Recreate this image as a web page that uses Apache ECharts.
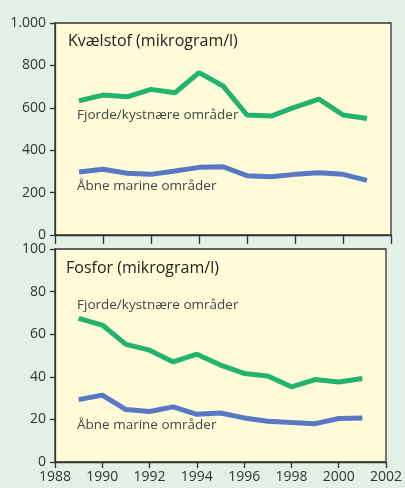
<!DOCTYPE html>
<html>
<head>
<meta charset="utf-8">
<script src="https://cdn.jsdelivr.net/npm/echarts@6/dist/echarts.min.js"></script>
<style>
html, body { margin: 0; padding: 0; background: #e3f0e7; }
#chart { width: 405px; height: 488px; }
</style>
</head>
<body>
<div id="chart"></div>
<script>
var years = [1989, 1990, 1991, 1992, 1993, 1994, 1995, 1996, 1997, 1998, 1999, 2000, 2001];
var kvaelstofFjorde = [633, 660, 652, 687, 671, 766, 703, 566, 561, 603, 641, 566, 550];
var kvaelstofAabne = [297, 310, 291, 286, 302, 319, 322, 280, 275, 286, 294, 286, 258];
var fosforFjorde = [67.4, 64.3, 55.2, 52.5, 47.0, 50.6, 45.5, 41.6, 40.4, 35.3, 38.7, 37.6, 39.2];
var fosforAabne = [29.3, 31.4, 24.6, 23.7, 25.9, 22.4, 23.0, 20.7, 19.1, 18.5, 18.0, 20.4, 20.7];

function pairs(vals) {
    return years.map(function (y, i) { return [y, vals[i]]; });
}

var chart = echarts.init(document.getElementById('chart'));
var font = 'Open Sans';
var axisCol = '#333';

function xAxis(idx, showLabel) {
    return {
        type: 'value', gridIndex: idx, min: 1988, max: 2002, interval: 2,
        axisLine: { lineStyle: { color: axisCol, width: 1.3 } },
        axisTick: { show: true, length: showLabel ? 6 : 9, lineStyle: { color: axisCol, width: 1.3 } },
        axisLabel: {
            show: showLabel, color: axisCol, fontFamily: font, fontSize: 14, margin: 8,
            formatter: function (v) { return String(v); }
        },
        splitLine: { show: false }
    };
}
function yAxis(idx, max, interval) {
    return {
        type: 'value', gridIndex: idx, min: 0, max: max, interval: interval,
        axisLine: { show: true, lineStyle: { color: axisCol, width: 1.3 } },
        axisTick: { show: true, length: 5, lineStyle: { color: axisCol, width: 1.3 } },
        axisLabel: {
            color: axisCol, fontFamily: font, fontSize: 14, margin: 9,
            formatter: function (v) { return v >= 1000 ? (v / 1000) + '.000' : String(v); }
        },
        splitLine: { show: false }
    };
}
function line(name, xi, data, color) {
    return {
        name: name, type: 'line', xAxisIndex: xi, yAxisIndex: xi, data: pairs(data),
        symbol: 'none', lineStyle: { color: color, width: 5 }, silent: true
    };
}
var green = '#22b36e', blue = '#5878c4';
var labelStyle = { fill: '#444', fontFamily: font, fontSize: 13.5 };
var titleStyle = { fill: '#222', fontFamily: font, fontSize: 16 };

chart.setOption({
    animation: false,
    backgroundColor: '#e3f0e7',
    grid: [
        { left: 55, top: 23, width: 336, height: 212, show: true, backgroundColor: '#fffbd9', borderColor: axisCol, borderWidth: 1.3 },
        { left: 55, top: 249, width: 336, height: 213, show: true, backgroundColor: '#fffbd9', borderColor: axisCol, borderWidth: 1.3 }
    ],
    xAxis: [xAxis(0, false), xAxis(1, true)],
    yAxis: [yAxis(0, 1000, 200), yAxis(1, 100, 20)],
    series: [
        line('Fjorde/kystnære områder', 0, kvaelstofFjorde, green),
        line('Åbne marine områder', 0, kvaelstofAabne, blue),
        line('Fjorde/kystnære områder', 1, fosforFjorde, green),
        line('Åbne marine områder', 1, fosforAabne, blue)
    ],
    graphic: [
        { type: 'text', left: 68, top: 33, style: Object.assign({ text: 'Kvælstof (mikrogram/l)' }, titleStyle) },
        { type: 'text', left: 77, top: 108, style: Object.assign({ text: 'Fjorde/kystnære områder' }, labelStyle) },
        { type: 'text', left: 77, top: 179, style: Object.assign({ text: 'Åbne marine områder' }, labelStyle) },
        { type: 'text', left: 66, top: 260, style: Object.assign({ text: 'Fosfor (mikrogram/l)' }, titleStyle) },
        { type: 'text', left: 77, top: 298, style: Object.assign({ text: 'Fjorde/kystnære områder' }, labelStyle) },
        { type: 'text', left: 77, top: 418, style: Object.assign({ text: 'Åbne marine områder' }, labelStyle) }
    ]
});
</script>
</body>
</html>
